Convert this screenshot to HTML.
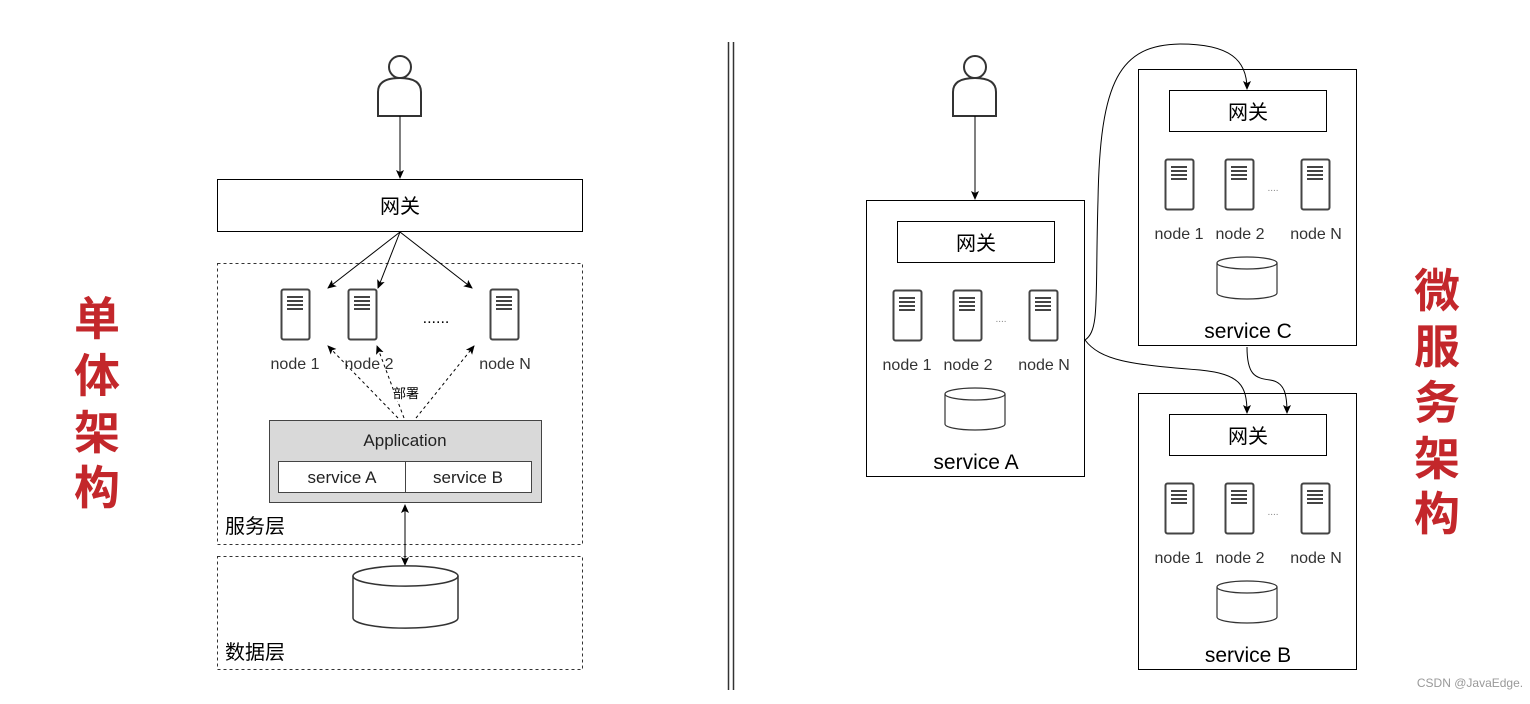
<!DOCTYPE html>
<html><head><meta charset="utf-8"><style>
body{margin:0;background:#fff;}
svg text{font-family:"Liberation Sans","Noto Sans CJK SC",sans-serif;}
</style></head><body>
<svg width="1530" height="699" viewBox="0 0 1530 699" xmlns="http://www.w3.org/2000/svg">
<defs>
<marker id="a" markerWidth="10" markerHeight="10" refX="8" refY="5" orient="auto" markerUnits="userSpaceOnUse"><path d="M0,1 L9,5 L0,9 L2,5 Z" fill="#000"/></marker>
<marker id="as" markerWidth="10" markerHeight="10" refX="2" refY="5" orient="auto" markerUnits="userSpaceOnUse"><path d="M10,1 L1,5 L10,9 L8,5 Z" fill="#000"/></marker>
<g id="srv"><rect x="0.5" y="0.5" width="28" height="50" rx="2" fill="#fff" stroke="#444" stroke-width="2"/>
<path d="M6,8H22M6,12H22M6,16H22M6,20H22" stroke="#444" stroke-width="2"/></g>
<g id="per"><circle cx="22" cy="15" r="11" fill="#fff" stroke="#333" stroke-width="2"/>
<path d="M0,64 V40 Q0,26 22,26 Q43,26 43,40 V64 Z" fill="#fff" stroke="#333" stroke-width="2"/></g>
</defs>
<!-- left -->
<use href="#per" x="378" y="52"/>
<line x1="400" y1="116" x2="400" y2="178" stroke="#000" marker-end="url(#a)"/>
<rect x="217.5" y="179.5" width="365" height="52" fill="#fff" stroke="#000"/>
<text x="400" y="213" font-size="20" text-anchor="middle">网关</text>
<rect x="217.5" y="263.5" width="365" height="281" fill="none" stroke="#333" stroke-dasharray="3,3"/>
<rect x="217.5" y="556.5" width="365" height="113" fill="none" stroke="#333" stroke-dasharray="3,3"/>
<line x1="400" y1="232" x2="328" y2="288" stroke="#000" marker-end="url(#a)"/>
<line x1="400" y1="232" x2="378" y2="288" stroke="#000" marker-end="url(#a)"/>
<line x1="400" y1="232" x2="472" y2="288" stroke="#000" marker-end="url(#a)"/>
<use href="#srv" x="281" y="289"/><use href="#srv" x="348" y="289"/><use href="#srv" x="490" y="289"/>
<text x="436" y="323" font-size="16" text-anchor="middle">......</text>
<text x="295" y="369" font-size="16" fill="#333" text-anchor="middle">node 1</text>
<text x="369" y="369" font-size="16" fill="#333" text-anchor="middle">node 2</text>
<text x="505" y="369" font-size="16" fill="#333" text-anchor="middle">node N</text>
<line x1="398" y1="418" x2="328" y2="346" stroke="#000" stroke-dasharray="3,3" marker-end="url(#a)"/>
<line x1="404" y1="418" x2="377" y2="346" stroke="#000" stroke-dasharray="3,3" marker-end="url(#a)"/>
<line x1="416" y1="418" x2="474" y2="346" stroke="#000" stroke-dasharray="3,3" marker-end="url(#a)"/>
<rect x="395" y="385" width="26" height="16" fill="#fff"/>
<text x="406" y="398" font-size="13" text-anchor="middle">部署</text>
<rect x="269.5" y="420.5" width="272" height="82" fill="#d9d9d9" stroke="#444"/>
<text x="405" y="446" font-size="17" fill="#222" text-anchor="middle">Application</text>
<rect x="278.5" y="461.5" width="253" height="31" fill="#fff" stroke="#444"/>
<line x1="405.5" y1="461" x2="405.5" y2="492" stroke="#444"/>
<text x="342" y="483" font-size="17" fill="#222" text-anchor="middle">service A</text>
<text x="468" y="483" font-size="17" fill="#222" text-anchor="middle">service B</text>
<line x1="405" y1="505" x2="405" y2="565" stroke="#000" marker-start="url(#as)" marker-end="url(#a)"/>
<path d="M353,576 A52,10 0 0 1 458,576 V618 A52,10 0 0 1 353,618 Z" fill="#fff" stroke="#333" stroke-width="1.5"/>
<path d="M353,576 A52,10 0 0 0 458,576" fill="none" stroke="#333" stroke-width="1.5"/>
<text x="225" y="533" font-size="20" text-anchor="start">服务层</text>
<text x="225" y="659" font-size="20" text-anchor="start">数据层</text>
<g font-size="46" font-weight="bold" fill="#c3272b" text-anchor="middle">
<text x="97" y="335">单</text><text x="97" y="392">体</text><text x="97" y="449">架</text><text x="97" y="504">构</text>
<text x="1437" y="307">微</text><text x="1437" y="363">服</text><text x="1437" y="419">务</text><text x="1437" y="475">架</text><text x="1437" y="530">构</text>
</g>
<line x1="728.5" y1="42" x2="728.5" y2="690" stroke="#333" stroke-width="1.5"/>
<line x1="733.5" y1="42" x2="733.5" y2="690" stroke="#333" stroke-width="1.5"/>
<!-- right -->
<use href="#per" x="953" y="52"/>
<line x1="975" y1="116" x2="975" y2="199" stroke="#000" marker-end="url(#a)"/>
<g id="svc">
<rect x="866.5" y="200.5" width="218" height="276" fill="#fff" stroke="#000"/>
<rect x="897.5" y="221.5" width="157" height="41" fill="#fff" stroke="#000"/>
<text x="976" y="250" font-size="20" text-anchor="middle">网关</text>
<use href="#srv" x="893" y="290"/><use href="#srv" x="953" y="290"/><use href="#srv" x="1029" y="290"/>
<text x="1001" y="322" font-size="10" fill="#888" text-anchor="middle">....</text>
<text x="907" y="370" font-size="16" fill="#333" text-anchor="middle">node 1</text>
<text x="968" y="370" font-size="16" fill="#333" text-anchor="middle">node 2</text>
<text x="1044" y="370" font-size="16" fill="#333" text-anchor="middle">node N</text>
<path d="M945,394 A30,6 0 0 1 1005,394 V424 A30,6 0 0 1 945,424 Z" fill="#fff" stroke="#333" stroke-width="1.2"/>
<path d="M945,394 A30,6 0 0 0 1005,394" fill="none" stroke="#333" stroke-width="1.2"/>
</g>
<text x="976" y="469" font-size="21" text-anchor="middle">service A</text>
<use href="#svc" x="272" y="-131"/>
<text x="1248" y="338" font-size="21" text-anchor="middle">service C</text>
<use href="#svc" x="272" y="193"/>
<text x="1248" y="662" font-size="21" text-anchor="middle">service B</text>
<path d="M1085,340 C1100,330 1095,300 1098,200 C1100,80 1120,45 1180,44 C1230,44 1247,60 1247,89" fill="none" stroke="#000" marker-end="url(#a)"/>
<path d="M1085,340 C1100,360 1130,365 1200,370 C1240,374 1247,385 1247,413" fill="none" stroke="#000" marker-end="url(#a)"/>
<path d="M1247,347 C1247,375 1255,378 1270,380 C1285,382 1287,395 1287,413" fill="none" stroke="#000" marker-end="url(#a)"/>
<text x="1470" y="687" font-size="12" fill="#999" text-anchor="middle">CSDN @JavaEdge.</text>
</svg>
</body></html>
